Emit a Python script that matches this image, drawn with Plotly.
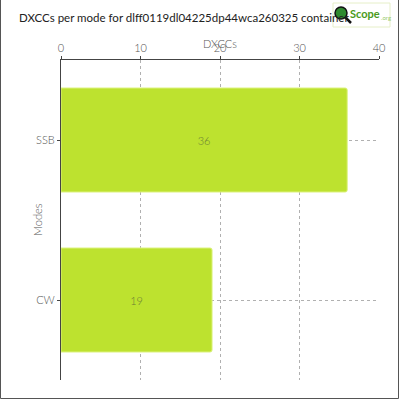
import plotly.graph_objects as go

modes = ["CW", "SSB"]
dxccs = [19, 36]
x_ticks = [0, 10, 20, 30, 40]

W, H = 400, 400
ML, MR, MT, MB = 61, 21, 60, 20
PW, PH = W - ML - MR, H - MT - MB


def px(x):
    return (x - ML) / PW


def py(y):
    return (H - MB - y) / PH


font_family = "Lato"
light = dict(family=font_family, size=11, color="#555", weight=300)

fig = go.Figure()

fig.add_trace(
    go.Bar(
        x=dxccs,
        y=modes,
        orientation="h",
        width=0.65,
        marker=dict(color="#bde22f", line=dict(color="#dcf27f", width=1), cornerradius=2),
        text=[str(v) for v in dxccs],
        textposition="inside",
        insidetextanchor="middle",
        textfont=dict(family=font_family, size=11, color="#6b7d35", weight=300),
        hoverinfo="skip",
    )
)

fig.update_xaxes(
    side="top",
    range=[0, 40],
    tickvals=x_ticks,
    ticks="outside",
    ticklen=3,
    tickcolor="#444",
    tickfont=light,
    showline=True,
    linecolor="#444",
    linewidth=1,
    showgrid=True,
    gridcolor="#b0b0b0",
    griddash="3px,3px",
    gridwidth=1,
    zeroline=False,
)
fig.update_yaxes(
    type="category",
    categoryorder="array",
    categoryarray=modes,
    range=[-0.5, 1.5],
    ticks="outside",
    ticklen=3,
    tickcolor="#444",
    tickfont=light,
    showline=True,
    linecolor="#444",
    linewidth=1,
    showgrid=True,
    gridcolor="#b0b0b0",
    griddash="3px,3px",
    gridwidth=1,
)

annotations = [
    dict(text="DXCCs per mode for dlff0119dl04225dp44wca260325 container",
         x=px(17), y=py(17), xanchor="left", yanchor="middle",
         font=dict(family=font_family, size=11.5, color="#222")),
    dict(text="DXCCs", x=0.5, y=py(44), xanchor="center", yanchor="middle", font=light),
    dict(text="Modes", x=px(37), y=0.5, textangle=-90, xanchor="center", yanchor="middle", font=light),
    dict(text="<b>Scope</b>", x=px(348), y=py(14), xanchor="left", yanchor="middle",
         font=dict(family=font_family, size=11, color="#4a9a1a")),
    dict(text=".org", x=px(379), y=py(18), xanchor="left", yanchor="middle",
         font=dict(family=font_family, size=6, color="#9acb6a")),
]
for a in annotations:
    a.update(xref="paper", yref="paper", showarrow=False)

shapes = [
    # outer frame
    dict(type="line", x0=px(0.5), x1=px(0.5), y0=py(0), y1=py(398.5), line=dict(color="#555", width=1)),
    dict(type="line", x0=px(0.5), x1=px(398.5), y0=py(398.5), y1=py(398.5), line=dict(color="#555", width=1)),
    dict(type="line", x0=px(398.5), x1=px(398.5), y0=py(0), y1=py(398.5), line=dict(color="#555", width=1)),
    # logo box
    dict(type="rect", x0=px(333), x1=px(390), y0=py(27), y1=py(3), line=dict(color="#e6efc8", width=1)),
    dict(type="line", x0=px(345), x1=px(351), y0=py(17), y1=py(23), line=dict(color="#111", width=2.5)),
    dict(type="circle", x0=px(335), x1=px(347), y0=py(19), y1=py(7),
         fillcolor="#2f8a2f", line=dict(color="#111", width=1.5)),
]
for s in shapes:
    s.update(xref="paper", yref="paper")

fig.update_layout(
    width=W,
    height=H,
    margin=dict(l=ML, r=MR, t=MT, b=MB),
    paper_bgcolor="white",
    plot_bgcolor="white",
    showlegend=False,
    bargap=0.35,
    annotations=annotations,
    shapes=shapes,
)

fig.write_html(
    "out.html",
    config={"displayModeBar": False},
    post_script="document.body.style.margin='0';",
)
